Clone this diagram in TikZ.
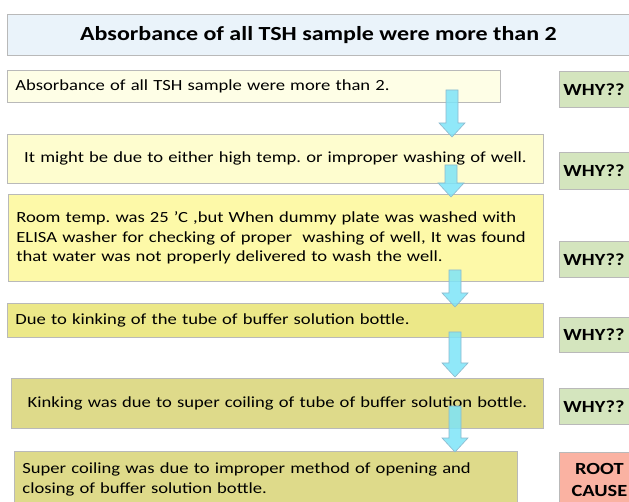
\documentclass[tikz,border=0pt]{standalone}
\usepackage{fontspec}
\setmainfont{Carlito}[FakeStretch=1.2]
\usetikzlibrary{calc}

\definecolor{titlefill}{RGB}{234,243,250}
\definecolor{edgegray}{RGB}{185,185,185}
\definecolor{yA}{RGB}{254,254,230}
\definecolor{yB}{RGB}{254,253,207}
\definecolor{yC}{RGB}{253,249,168}
\definecolor{yD}{RGB}{236,232,136}
\definecolor{yE}{RGB}{222,218,138}
\definecolor{whyfill}{RGB}{212,229,190}
\definecolor{rootfill}{RGB}{250,178,162}
\definecolor{arrfill}{RGB}{125,228,248}
\definecolor{arrdraw}{RGB}{140,185,205}

\newcommand\fatarrow[2]{%
  \filldraw[arr] let \p1=(#1), \p2=(#2) in
    (\x1-6pt,\y1) -- (\x1+6pt,\y1) -- (\x1+6pt,\y2+14pt) -- (\x1+13pt,\y2+14pt)
    -- (\x2,\y2) -- (\x1-13pt,\y2+14pt) -- (\x1-6pt,\y2+14pt) -- cycle;}

\begin{document}
\frenchspacing
\begin{tikzpicture}[x=1pt,y=-1pt,
    box/.style={draw=edgegray,line width=0.8pt,anchor=north west,font=\fontsize{15.5}{19.5}\selectfont},
    leftbox/.style={box,align=left,inner xsep=8pt},
    midbox/.style={box,align=center},
    why/.style={draw=edgegray,line width=0.8pt,fill=whyfill,anchor=north west,minimum width=80,
      font=\bfseries\fontsize{17}{19}\selectfont,inner xsep=4pt,text width=72,align=left},
    arr/.style={fill=arrfill,draw=arrdraw,line width=0.6pt,fill opacity=0.85}]
  \useasboundingbox (0,0) rectangle (629,502);

  \node[box,fill=titlefill,minimum width=630,minimum height=41,
        font=\bfseries\fontsize{20}{22}\selectfont] (title) at (7,14)
        {\hspace*{-8pt}Absorbance of all TSH sample were more than 2};

  \node[leftbox,fill=yA,minimum width=493,minimum height=32,text width=477] (b1) at (7,70)
        {Absorbance of all TSH sample were more than 2.};
  \node[midbox,fill=yB,minimum width=536,minimum height=49,text width=520] (b2) at (7,134)
        {It might be due to either high temp. or improper washing of well.};
  \node[leftbox,fill=yC,minimum width=535,minimum height=87,text width=519] (b3) at (8,194)
        {Room temp. was 25 'C ,but When dummy plate was washed with\\
         ELISA washer for checking of proper\ \ washing of well, It was found\\
         that water was not properly delivered to wash the well.};
  \node[leftbox,fill=yD,minimum width=536,minimum height=34,text width=520] (b4) at (7,303)
        {Due to kinking of the tube of buffer solution bottle.};
  \node[midbox,fill=yE,minimum width=532,minimum height=50,text width=516] (b5) at (11,378)
        {Kinking was due to super coiling of tube of buffer solution bottle.};
  \node[leftbox,fill=yE,minimum width=503,minimum height=56,text width=487] (b6) at (14,451)
        {Super coiling was due to improper method of opening and\\
         closing of buffer solution bottle.};

  \node[why,minimum height=36] (w1) at (559,71) {WHY??};
  \node[why,minimum height=37] (w2) at (559,152) {WHY??};
  \node[why,minimum height=36] (w3) at (559,241) {WHY??};
  \node[why,minimum height=35] (w4) at (559,317) {WHY??};
  \node[why,minimum height=36] (w5) at (559,388) {WHY??};
  \node[draw=edgegray,line width=0.8pt,fill=rootfill,anchor=north west,minimum width=80,
        minimum height=56,text width=66,inner xsep=3pt,align=center,
        font=\bfseries\fontsize{17}{22}\selectfont] (root) at (559,452)
        {ROOT\\CAUSE};

  \coordinate (a1s) at (452,90);  \coordinate (a1e) at (452,137);
  \coordinate (a2s) at (451,165); \coordinate (a2e) at (451,197);
  \coordinate (a3s) at (455,270); \coordinate (a3e) at (455,307);
  \coordinate (a4s) at (455,332); \coordinate (a4e) at (455,377);
  \coordinate (a5s) at (455,406); \coordinate (a5e) at (455,452);

  \fatarrow{a1s}{a1e}
  \fatarrow{a2s}{a2e}
  \fatarrow{a3s}{a3e}
  \fatarrow{a4s}{a4e}
  \fatarrow{a5s}{a5e}
\end{tikzpicture}
\end{document}
